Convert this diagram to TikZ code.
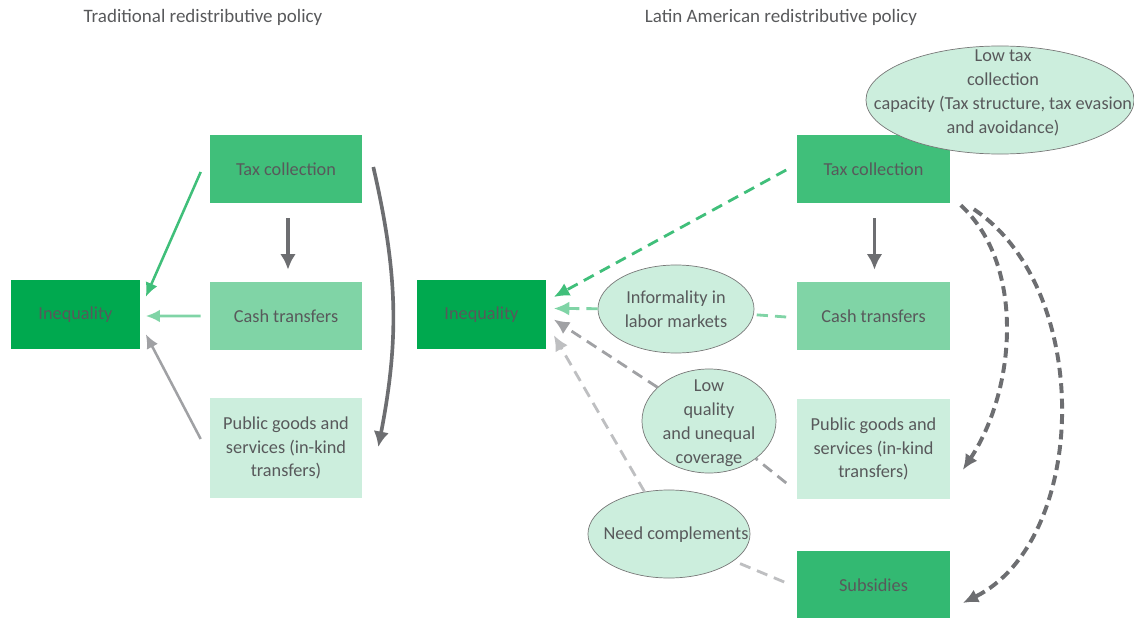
\documentclass[tikz,border=0pt]{standalone}
\usepackage{fontspec}
\setmainfont{Carlito}
\usepackage{tikz}
\usetikzlibrary{arrows.meta,shapes.geometric,calc,positioning}
\definecolor{ineqgreen}{RGB}{0,169,79}
\definecolor{taxgreen}{RGB}{64,191,122}
\definecolor{cashgreen}{RGB}{128,212,166}
\definecolor{palegreen}{RGB}{204,238,221}
\definecolor{subgreen}{RGB}{51,185,114}
\definecolor{txtgray}{RGB}{88,89,91}
\definecolor{arrowgray}{RGB}{109,110,113}
\definecolor{midgray}{RGB}{160,161,164}
\definecolor{palegray}{RGB}{190,191,193}
\definecolor{ellgray}{RGB}{120,120,120}
\tikzstyle{box} = [rectangle, minimum width=3.8cm, minimum height=1.7cm, inner sep=0pt, align=center, text=txtgray, font=\fontsize{13}{17}\selectfont]
\tikzstyle{ineq} = [box, minimum width=3.2cm, minimum height=1.72cm, fill=ineqgreen]
\tikzstyle{tax} = [box, fill=taxgreen]
\tikzstyle{cash} = [box, fill=cashgreen]
\tikzstyle{pub} = [box, minimum height=2.52cm, fill=palegreen]
\tikzstyle{sub} = [box, fill=subgreen]
\tikzstyle{bubble} = [ellipse, draw=ellgray, line width=0.5pt, fill=palegreen, inner sep=0pt]
\tikzstyle{bubbletext} = [align=center, text=txtgray, inner sep=0pt, font=\fontsize{13}{17}\selectfont]
\tikzstyle{title} = [text=txtgray, font=\fontsize{13.5}{15}\selectfont]
\tikzstyle{solidgray} = [-{Latex[length=11pt,width=11pt]}, line width=2.6pt, color=arrowgray]
\tikzstyle{solidgreen} = [-{Latex[length=10pt,width=9pt]}, line width=1.8pt]
\tikzstyle{dashgreen} = [line width=2pt, dash pattern=on 8pt off 5pt]
\tikzstyle{dashcurve} = [-{Latex[length=11pt,width=10pt]}, line width=2.8pt, color=arrowgray, dash pattern=on 7pt off 4pt]

\begin{document}
\begin{tikzpicture}[x=0.025cm,y=-0.025cm]
    \useasboundingbox (0,0) rectangle (1134,618);

    % traditional policy
    \node[title] (titleL) at (203,17) {Traditional redistributive policy};
    \node[ineq] (ineqL) at (75.5,314.5) {Inequality};
    \node[tax] (taxL) at (286,169) {Tax collection};
    \node[cash] (cashL) at (286,316) {Cash transfers};
    \node[pub] (pubL) at (286,448) {Public goods and\\services (in-kind\\transfers)};

    \draw[solidgray] ($(taxL.south)+(2,15)$) -- ($(cashL.north)+(2,-12)$);
    \draw[solidgray] ($(taxL.east)+(11,-2)$) to[bend left=12] ($(pubL.east)+(16,-1)$);
    \draw[solidgreen, color=taxgreen] ($(taxL.west)+(-9,3)$) -- ($(ineqL.north east)+(6,17)$);
    \draw[solidgreen, color=cashgreen] ($(cashL.west)+(-9,0)$) -- ($(ineqL.east)+(6,1.5)$);
    \draw[solidgreen, color=midgray] ($(pubL.west)+(-9,-9)$) -- ($(ineqL.south east)+(6,-15)$);

    % latin american policy
    \node[title] (titleR) at (781,17) {Latin American redistributive policy};
    \node[ineq] (ineqR) at (481.5,314.5) {Inequality};
    \node[tax] (taxR) at (873.5,169) {Tax collection};
    \node[cash] (cashR) at (873.5,316) {Cash transfers};
    \node[pub] (pubR) at (873.5,449) {Public goods and\\services (in-kind\\transfers)};
    \node[sub] (subR) at (873.5,585) {Subsidies};

    \draw[solidgray] ($(taxR.south)+(1,15)$) -- ($(cashR.north)+(1,-12)$);
    \draw[dashcurve] ($(taxR.south east)+(11,2)$) .. controls +(65,60) and +(53,-80) .. ($(pubR.east)+(13,21)$);
    \draw[dashcurve] ($(taxR.south east)+(24,6)$) .. controls +(120,80) and +(126,-63) .. ($(subR.east)+(13,18)$);

    \node[bubble, minimum width=3.9cm, minimum height=2.2cm] (inform) at (676,309) {};
    \node[bubbletext] (informtext) at (inform) {Informality in\\labor markets};
    \node[bubble, minimum width=3.35cm, minimum height=2.6cm] (lowq) at (709,421) {};
    \node[bubbletext] (lowqtext) at (709,423) {Low\\quality\\and unequal\\coverage};
    \node[bubble, minimum width=4.05cm, minimum height=2.2cm] (need) at (669,534) {};
    \node[bubbletext] (needtext) at (676,535) {Need complements};
    \node[bubble, minimum width=6.7cm, minimum height=2.7cm] (lowtax) at (1000,100) {};
    \node[bubbletext] (lowtaxtext) at (1003,93) {Low tax\\collection\\capacity (Tax structure, tax evasion\\and avoidance)};

    \draw[dashgreen, -{Latex[length=11pt,width=10pt]}, color=taxgreen] ($(taxR.west)+(-11,1)$) -- ($(ineqR.east)+(8,-17.5)$);
    \draw[dashgreen, color=cashgreen] ($(cashR.west)+(-11,1)$) -- (inform);
    \draw[dashgreen, -{Latex[length=11pt,width=10pt]}, color=cashgreen] (inform) -- ($(ineqR.east)+(8,-6)$);
    \draw[dashgreen, color=midgray] ($(pubR.west)+(-11,34)$) -- (lowq);
    \draw[dashgreen, -{Latex[length=11pt,width=10pt]}, color=midgray] (lowq) -- ($(ineqR.east)+(8,5)$);
    \draw[dashgreen, color=palegray] ($(subR.west)+(-13,-3)$) -- (need);
    \draw[dashgreen, -{Latex[length=11pt,width=10pt]}, color=palegray] (need) -- ($(ineqR.south east)+(8,-14)$);
\end{tikzpicture}
\end{document}
